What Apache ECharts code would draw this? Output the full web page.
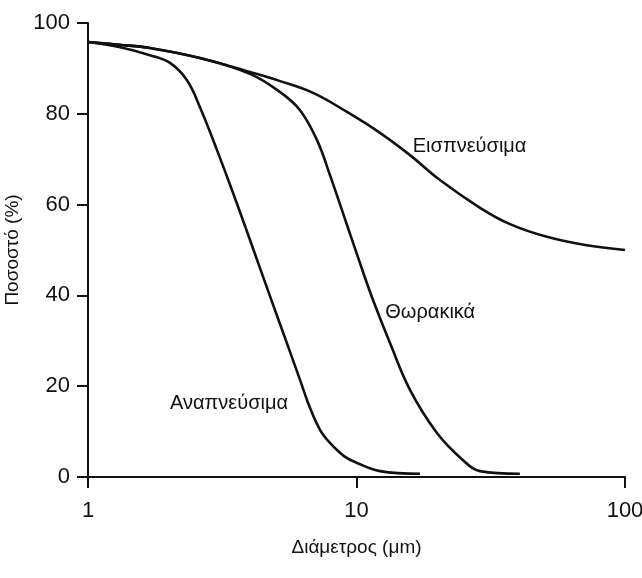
<!DOCTYPE html>
<html>
<head>
<meta charset="utf-8">
<script src="https://cdn.jsdelivr.net/npm/echarts@6/dist/echarts.min.js"></script>
<style>
html,body{margin:0;padding:0;background:#fff;}
#chart{width:642px;height:578px;}
</style>
</head>
<body>
<div id="chart"></div>
<script>
// Diameters (μm) and percentages
const inhalableD = [1, 1.305, 1.70, 2.61, 4.01, 5.19, 6.89, 9.22, 12.23, 15.82, 20.46, 28.84, 37.3, 51.2, 71.0, 100];
const inhalableP = [95.8, 95.2, 94.5, 92.3, 89.2, 87.2, 84.6, 80.4, 75.8, 70.9, 65.4, 59.3, 55.7, 52.9, 51.1, 50.0];

const thoracicD = [1, 1.305, 1.70, 2.61, 4.01, 5.19, 6.16, 7.128, 7.966, 9.218, 10.57, 11.52, 13.33, 15.82, 19.94, 24.93, 28.84, 40.6];
const thoracicP = [95.8, 95.2, 94.5, 92.3, 88.8, 84.8, 80.8, 74.2, 66.5, 55.5, 45.2, 39.0, 29.5, 19.2, 9.7, 3.7, 1.3, 0.7];

const respirableD = [1, 1.305, 1.70, 2.02, 2.337, 2.61, 3.023, 3.438, 3.843, 4.371, 5.189, 6.161, 6.713, 7.313, 7.966, 8.984, 10.04, 12.23, 17.24];
const respirableP = [95.8, 94.7, 92.9, 91.2, 87.4, 81.5, 72.0, 63.2, 55.3, 46.0, 33.7, 21.4, 15.2, 10.4, 7.5, 4.6, 3.1, 1.3, 0.7];

const curveNames = ['Εισπνεύσιμα', 'Θωρακικά', 'Αναπνεύσιμα'];
// label anchor points (data coordinates): [diameter, percent]
const labelAnchors = [[16.2, 72.7], [12.8, 36.3], [2.02, 16.3]];

const xTicks = [1, 10, 100];
const yTicks = [0, 20, 40, 60, 80, 100];
const xTitle = 'Διάμετρος (μm)';
const yTitle = 'Ποσοστό (%)';

const FONT = "'Liberation Sans', Arial, Helvetica, sans-serif";

function pairs(d, p) { return d.map((v, i) => [v, p[i]]); }

const chart = echarts.init(document.getElementById('chart'), null, {renderer: 'canvas'});

const lineStyle = {color: '#111', width: 2.6};

chart.setOption({
  animation: false,
  backgroundColor: '#fff',
  grid: {left: 88, right: 17, top: 23, bottom: 101, containLabel: false, outerBoundsMode: 'none'},
  xAxis: {
    type: 'log',
    logBase: 10,
    min: 1,
    max: 100,
    name: xTitle,
    nameLocation: 'middle',
    nameGap: 61,
    nameTextStyle: {fontFamily: FONT, fontSize: 19, color: '#111'},
    axisLine: {show: true, lineStyle: {color: '#111', width: 2}},
    axisTick: {show: true, length: 11, inside: false, lineStyle: {color: '#111', width: 2}},
    minorTick: {show: false},
    splitLine: {show: false},
    axisLabel: {
      fontFamily: FONT, fontSize: 22, color: '#111', margin: 23,
      formatter: v => (xTicks.indexOf(Math.round(v)) >= 0 ? String(Math.round(v)) : '')
    }
  },
  yAxis: {
    type: 'value',
    min: 0,
    max: 100,
    interval: 20,
    name: yTitle,
    nameLocation: 'middle',
    nameRotate: 90,
    nameGap: 57,
    nameTextStyle: {fontFamily: FONT, fontSize: 19, color: '#111'},
    axisLine: {show: true, lineStyle: {color: '#111', width: 2}},
    axisTick: {show: true, length: 11, lineStyle: {color: '#111', width: 2}},
    splitLine: {show: false},
    axisLabel: {
      fontFamily: FONT, fontSize: 22, color: '#111', margin: 18,
      formatter: v => (yTicks.indexOf(v) >= 0 ? String(v) : '')
    }
  },
  series: [
    {type: 'line', name: curveNames[0], data: pairs(inhalableD, inhalableP), smooth: 0.4, showSymbol: false, lineStyle: lineStyle, z: 3},
    {type: 'line', name: curveNames[1], data: pairs(thoracicD, thoracicP), smooth: 0.4, showSymbol: false, lineStyle: lineStyle, z: 3},
    {type: 'line', name: curveNames[2], data: pairs(respirableD, respirableP), smooth: 0.4, showSymbol: false, lineStyle: lineStyle, z: 3},
    {
      type: 'scatter',
      symbolSize: 0,
      silent: true,
      data: labelAnchors.map((c, i) => ({value: c, name: curveNames[i]})),
      itemStyle: {color: '#111', opacity: 1},
      label: {
        show: true,
        position: 'right',
        distance: 0,
        formatter: p => p.name,
        fontFamily: FONT,
        fontSize: 20,
        color: '#111'
      },
      z: 4
    }
  ]
});
</script>
</body>
</html>
